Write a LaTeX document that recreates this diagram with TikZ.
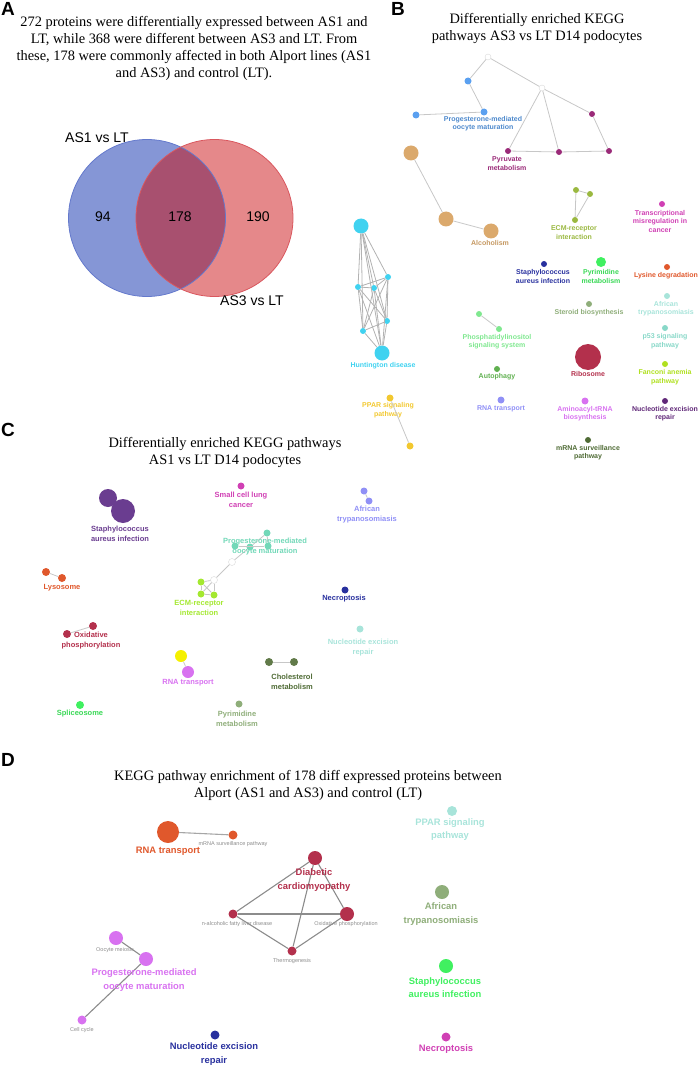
\documentclass[tikz,border=0pt]{standalone}
\usepackage{fontspec}
\setmainfont{Liberation Serif}
\setsansfont{Liberation Sans}
\usepackage{tikz}
\usetikzlibrary{shapes}
\definecolor{vennblue}{HTML}{8596D6}
\definecolor{vennblueline}{HTML}{6479CC}
\definecolor{vennred}{HTML}{E5888A}
\definecolor{vennredline}{HTML}{D9575E}
\definecolor{vennmix}{HTML}{A8506F}
\definecolor{skyblue}{HTML}{5AA0F0}
\definecolor{plum}{HTML}{9A2A78}
\definecolor{tan}{HTML}{DBA96C}
\definecolor{olive}{HTML}{9AB840}
\definecolor{magenta}{HTML}{D040B4}
\definecolor{navy}{HTML}{28309E}
\definecolor{lime}{HTML}{40F060}
\definecolor{rust}{HTML}{E0582C}
\definecolor{mint}{HTML}{A8E4DA}
\definecolor{sage}{HTML}{8FAE7A}
\definecolor{leaf}{HTML}{80E890}
\definecolor{aqua}{HTML}{88D8C8}
\definecolor{cyan}{HTML}{40D2F0}
\definecolor{crimson}{HTML}{B3304C}
\definecolor{grass}{HTML}{60B050}
\definecolor{chartreuse}{HTML}{B0E020}
\definecolor{gold}{HTML}{F2C830}
\definecolor{lavender}{HTML}{9090F6}
\definecolor{orchid}{HTML}{D872F0}
\definecolor{grape}{HTML}{602878}
\definecolor{moss}{HTML}{4F6B35}
\definecolor{purple}{HTML}{6A3D90}
\definecolor{teal}{HTML}{72D8B8}
\definecolor{yellow}{HTML}{F5F000}
\definecolor{springgreen}{HTML}{A4E830}
\tikzstyle{vertex}=[circle,minimum size=6pt,inner sep=0pt]
\tikzstyle{big vertex}=[vertex,minimum size=14pt]
\tikzstyle{white vertex}=[vertex,fill=white,draw=black!15]
\tikzstyle{edge} = [draw,line width=0.8pt,black!22,-]
\tikzstyle{dark edge} = [draw,line width=1.1pt,black!45,-]
\tikzstyle{heading}=[font=\fontsize{14.4}{17}\selectfont,align=center,inner sep=0pt]
\tikzstyle{panel}=[font=\fontsize{19}{19}\selectfont\sffamily\bfseries,inner sep=0pt]
\tikzstyle{venn text}=[font=\fontsize{14}{16}\selectfont\sffamily,inner sep=0pt]
\tikzstyle{b text}=[font=\fontsize{7}{8.5}\selectfont\sffamily\bfseries,align=center,inner sep=0pt]
\tikzstyle{c text}=[font=\fontsize{7.5}{10}\selectfont\sffamily\bfseries,align=center,inner sep=0pt]
\tikzstyle{d text}=[font=\fontsize{9.4}{13.5}\selectfont\sffamily\bfseries,align=center,inner sep=0pt]
\tikzstyle{d small}=[font=\fontsize{5.5}{6}\selectfont\sffamily,text=black!45,inner sep=0pt]
\begin{document}
\begin{tikzpicture}[x=1pt,y=-1pt]
        \useasboundingbox (0,0) rectangle (699,1067);
        % A: Venn diagram
        \node[panel] (pa) at (8,9) {A};
        \node[heading] (ta) at (194,48.5) {272 proteins were differentially expressed between AS1 and\\LT, while 368 were different between AS3 and LT. From\\these, 178 were commonly affected in both Alport lines (AS1\\and AS3) and control (LT).};
        \node[circle,minimum size=157pt,inner sep=0pt,fill=vennblue] (as1) at (147,218) {};
        \node[circle,minimum size=157pt,inner sep=0pt,fill=vennred] (as3) at (214.5,218) {};
        \begin{scope}
          \clip (147,218) circle (78.5);
          \fill[vennmix] (214.5,218) circle (78.5);
        \end{scope}
        \draw[vennblueline,line width=0.8pt] (147,218) circle (78.5);
        \draw[vennredline,line width=0.8pt] (214.5,218) circle (78.5);
        \node[venn text] (n1) at (103,217) {94};
        \node[venn text] (n2) at (180,217) {178};
        \node[venn text] (n3) at (258,217) {190};
        \node[venn text] (l1) at (97,138) {AS1 vs LT};
        \node[venn text] (l3) at (252,301) {AS3 vs LT};
        % B: AS3 vs LT
        \node[panel] (pb) at (398,9) {B};
        \node[heading] (tb) at (537,28.5) {Differentially enriched KEGG\\pathways AS3 vs LT D14 podocytes};
        \node[white vertex] (w1) at (488,57) {};
        \node[white vertex] (w2) at (542,88) {};
        \node[vertex,minimum size=7pt,fill=skyblue] (pg1) at (468,81) {};
        \node[vertex,minimum size=7pt,fill=skyblue] (pg2) at (484,112) {};
        \node[vertex,minimum size=7pt,fill=skyblue] (pg3) at (416,115) {};
        \node[b text,text=skyblue!85!black] (pgt) at (483,123.5) {Progesterone-mediated\\oocyte maturation};
        \node[vertex,fill=plum] (py1) at (592,114) {};
        \node[vertex,fill=plum] (py2) at (508,151) {};
        \node[vertex,fill=plum] (py3) at (559,152) {};
        \node[vertex,fill=plum] (py4) at (609,151) {};
        \node[b text,text=plum] (pyt) at (507,163.5) {Pyruvate\\metabolism};
        \draw[edge] (w1) to (pg1);
        \draw[edge] (pg1) to (pg2);
        \draw[edge] (pg2) to (pg3);
        \draw[edge] (w1) to (w2);
        \draw[edge] (w2) to (py1);
        \draw[edge] (w2) to (py2);
        \draw[edge] (w2) to (py3);
        \draw[edge] (py1) to (py4);
        \draw[edge] (py2) to (py3);
        \draw[edge] (py3) to (py4);
        \node[vertex,minimum size=15pt,fill=tan] (al1) at (411,153) {};
        \node[vertex,minimum size=15pt,fill=tan] (al2) at (446,219) {};
        \node[vertex,minimum size=15pt,fill=tan] (al3) at (491,231) {};
        \node[b text,text=tan!90!black] (alt) at (490,243) {Alcoholism};
        \draw[edge] (al1) to (al2);
        \draw[edge] (al2) to (al3);
        \node[vertex,fill=olive] (ecm1) at (576,190) {};
        \node[vertex,fill=olive] (ecm2) at (590,194) {};
        \node[vertex,fill=olive] (ecm3) at (575,220) {};
        \node[b text,text=olive] (ecmt) at (574,232.5) {ECM-receptor\\interaction};
        \draw[edge] (ecm1) to (ecm2);
        \draw[edge] (ecm1) to (ecm3);
        \draw[edge] (ecm2) to (ecm3);
        \node[vertex,fill=magenta] (tr) at (662,204) {};
        \node[b text,text=magenta] (trt) at (660,221) {Transcriptional\\misregulation in\\cancer};
        \node[vertex,fill=navy] (st) at (544,264) {};
        \node[b text,text=navy] (stt) at (543,276.5) {Staphylococcus\\aureus infection};
        \node[vertex,minimum size=10pt,fill=lime] (pm) at (601,262) {};
        \node[b text,text=lime!90!black] (pmt) at (601,276.5) {Pyrimidine\\metabolism};
        \node[vertex,fill=rust] (ly) at (667,267) {};
        \node[b text,text=rust] (lyt) at (666,276) {Lysine degradation};
        \node[vertex,fill=mint] (af) at (667,296) {};
        \node[b text,text=mint] (aft) at (666,308.5) {African\\trypanosomiasis};
        \node[vertex,fill=sage] (sb) at (589,304) {};
        \node[b text,text=sage] (sbt) at (589,313) {Steroid biosynthesis};
        \node[vertex,fill=leaf] (pi1) at (479,314) {};
        \node[vertex,fill=leaf] (pi2) at (499,329) {};
        \node[b text,text=leaf] (pit) at (497,341.5) {Phosphatidylinositol\\signaling system};
        \draw[edge] (pi1) to (pi2);
        \node[vertex,fill=aqua] (p53) at (665,328) {};
        \node[b text,text=aqua] (p53t) at (665,341) {p53 signaling\\pathway};
        \node[vertex,minimum size=15pt,fill=cyan] (hd1) at (361,226) {};
        \node[vertex,fill=cyan] (hd2) at (388,277) {};
        \node[vertex,fill=cyan] (hd3) at (358,287) {};
        \node[vertex,fill=cyan] (hd4) at (374,288) {};
        \node[vertex,fill=cyan] (hd5) at (387,321) {};
        \node[vertex,fill=cyan] (hd6) at (363,331) {};
        \node[vertex,minimum size=15pt,fill=cyan] (hd7) at (382,353) {};
        \node[b text,text=cyan] (hdt) at (383,366) {Huntington disease};
        \draw[edge,black!30] (hd1) to (hd2);
        \draw[edge,black!30] (hd1) to (hd3);
        \draw[edge,black!30] (hd1) to (hd4);
        \draw[edge,black!30] (hd1) to (hd5);
        \draw[edge,black!30] (hd1) to (hd6);
        \draw[edge,black!30] (hd1) to (hd7);
        \draw[edge,black!30] (hd2) to (hd3);
        \draw[edge,black!30] (hd2) to (hd4);
        \draw[edge,black!30] (hd2) to (hd5);
        \draw[edge,black!30] (hd2) to (hd6);
        \draw[edge,black!30] (hd2) to (hd7);
        \draw[edge,black!30] (hd3) to (hd4);
        \draw[edge,black!30] (hd3) to (hd5);
        \draw[edge,black!30] (hd3) to (hd6);
        \draw[edge,black!30] (hd3) to (hd7);
        \draw[edge,black!30] (hd4) to (hd5);
        \draw[edge,black!30] (hd4) to (hd6);
        \draw[edge,black!30] (hd4) to (hd7);
        \draw[edge,black!30] (hd5) to (hd6);
        \draw[edge,black!30] (hd5) to (hd7);
        \draw[edge,black!30] (hd6) to (hd7);
        \node[vertex,minimum size=26pt,fill=crimson] (ri) at (588,357) {};
        \node[b text,text=crimson] (rit) at (588,374) {Ribosome};
        \node[vertex,fill=grass] (au) at (497,369) {};
        \node[b text,text=grass] (aut) at (497,377) {Autophagy};
        \node[vertex,fill=chartreuse] (fa) at (665,364) {};
        \node[b text,text=chartreuse] (fat) at (665,377) {Fanconi anemia\\pathway};
        \node[vertex,minimum size=7pt,fill=gold] (pp1) at (390,398) {};
        \node[vertex,minimum size=7pt,fill=gold] (pp2) at (410,446) {};
        \node[b text,text=gold] (ppt) at (388,410) {PPAR signaling\\pathway};
        \draw[edge] (pp1) to (pp2);
        \node[vertex,minimum size=7pt,fill=lavender] (rn) at (501,400) {};
        \node[b text,text=lavender] (rnt) at (501,409) {RNA transport};
        \node[vertex,minimum size=7pt,fill=orchid] (aa) at (585,401) {};
        \node[b text,text=orchid] (aat) at (585,413.5) {Aminoacyl-tRNA\\biosynthesis};
        \node[vertex,fill=grape] (ne) at (665,401) {};
        \node[b text,text=grape] (net) at (665,413.5) {Nucleotide excision\\repair};
        \node[vertex,fill=moss] (mr) at (588,440) {};
        \node[b text,text=moss] (mrt) at (588,452.5) {mRNA surveillance\\pathway};
        % C: AS1 vs LT
        \node[panel] (pc) at (8,430) {C};
        \node[heading] (tc) at (225,452) {Differentially enriched KEGG pathways\\AS1 vs LT D14 podocytes};
        \node[vertex,minimum size=18pt,fill=purple] (sa1) at (108,498) {};
        \node[vertex,minimum size=24pt,fill=purple] (sa2) at (123,511) {};
        \node[c text,text=purple] (sat) at (120,533.5) {Staphylococcus\\aureus infection};
        \node[vertex,minimum size=7pt,fill=magenta] (sc) at (241,486) {};
        \node[c text,text=magenta] (sct) at (241,500) {Small cell lung\\cancer};
        \node[vertex,minimum size=7pt,fill=lavender] (at1) at (364,491) {};
        \node[vertex,minimum size=7pt,fill=lavender] (at2) at (369,501) {};
        \node[c text,text=lavender] (att) at (367,514.5) {African\\trypanosomiasis};
        \draw[edge] (at1) to (at2);
        \node[vertex,minimum size=7pt,fill=teal] (po1) at (267,533) {};
        \node[vertex,minimum size=7pt,fill=teal] (po2) at (235,546) {};
        \node[vertex,minimum size=7pt,fill=teal] (po3) at (250,547) {};
        \node[vertex,minimum size=7pt,fill=teal] (po4) at (268,546) {};
        \node[white vertex,minimum size=7pt] (wc1) at (232,562) {};
        \node[white vertex,minimum size=7pt] (wc2) at (214,580) {};
        \node[vertex,minimum size=7pt,fill=springgreen] (ec1) at (201,582) {};
        \node[vertex,minimum size=7pt,fill=springgreen] (ec2) at (201,594) {};
        \node[vertex,minimum size=7pt,fill=springgreen] (ec3) at (214,595) {};
        \draw[edge] (po1) to (po3);
        \draw[edge] (po1) to (po4);
        \draw[edge] (po2) to (po4);
        \draw[edge] (po3) to (wc1);
        \draw[edge] (wc1) to (wc2);
        \draw[edge] (wc2) to (ec1);
        \draw[edge] (wc2) to (ec2);
        \draw[edge] (wc2) to (ec3);
        \draw[edge] (ec1) to (ec2);
        \draw[edge] (ec1) to (ec3);
        \draw[edge] (ec2) to (ec3);
        \node[c text,text=teal] (pot) at (265,547) {Progesterone-mediated\\oocyte maturation};
        \node[c text,text=springgreen] (ect) at (199,608) {ECM-receptor\\interaction};
        \node[vertex,minimum size=8pt,fill=rust] (lc1) at (46,572) {};
        \node[vertex,minimum size=8pt,fill=rust] (lc2) at (62,578) {};
        \node[c text,text=rust] (lct) at (62,588) {Lysosome};
        \draw[edge] (lc1) to (lc2);
        \node[vertex,minimum size=8pt,fill=crimson] (ox1) at (67,634) {};
        \node[vertex,minimum size=8pt,fill=crimson] (ox2) at (93,626) {};
        \node[c text,text=crimson] (oxt) at (91,641) {Oxidative\\phosphorylation};
        \draw[edge] (ox1) to (ox2);
        \node[vertex,minimum size=7pt,fill=navy] (nc) at (345,590) {};
        \node[c text,text=navy] (nct) at (344,599) {Necroptosis};
        \node[vertex,minimum size=7pt,fill=mint] (nr) at (360,629) {};
        \node[c text,text=mint] (nrt) at (363,648) {Nucleotide excision\\repair};
        \node[vertex,minimum size=8pt,fill=moss!90] (ch1) at (269,662) {};
        \node[vertex,minimum size=8pt,fill=moss!90] (ch2) at (294,662) {};
        \node[c text,text=moss] (cht) at (292,681.5) {Cholesterol\\metabolism};
        \draw[edge] (ch1) to (ch2);
        \node[vertex,minimum size=12pt,fill=yellow] (rt1) at (181,656) {};
        \node[vertex,minimum size=12pt,fill=orchid] (rt2) at (188,672) {};
        \node[c text,text=orchid] (rtt) at (188,683) {RNA transport};
        \draw[edge] (rt1) to (rt2);
        \node[vertex,minimum size=7pt,fill=sage] (pyc) at (239,704) {};
        \node[c text,text=sage] (pyct) at (237,718.5) {Pyrimidine\\metabolism};
        \node[vertex,minimum size=8pt,fill=lime] (sp) at (80,705) {};
        \node[c text,text=lime!90!black] (spt) at (80,714) {Spliceosome};
        % D: 178 common proteins
        \node[panel] (pd) at (8,760) {D};
        \node[heading] (td) at (308,785.5) {KEGG pathway enrichment of 178 diff expressed proteins between\\Alport (AS1 and AS3) and control (LT)};
        \node[vertex,minimum size=22pt,fill=rust] (rt) at (168,832) {};
        \node[vertex,minimum size=9pt,fill=rust] (ms) at (233,835) {};
        \node[d text,text=rust] (rtt2) at (168,851) {RNA transport};
        \node[d small] (mst) at (233,844) {mRNA surveillance pathway};
        \draw[dark edge,black!35] (rt) to (ms);
        \node[vertex,minimum size=14pt,fill=crimson] (dc1) at (315,858) {};
        \node[vertex,minimum size=9pt,fill=crimson] (dc2) at (233,914) {};
        \node[vertex,minimum size=14pt,fill=crimson] (dc3) at (347,914) {};
        \node[vertex,minimum size=9pt,fill=crimson] (dc4) at (292,951) {};
        \draw[dark edge] (dc1) to (dc2);
        \draw[dark edge] (dc1) to (dc3);
        \draw[dark edge] (dc1) to (dc4);
        \draw[dark edge] (dc2) to (dc3);
        \draw[dark edge] (dc2) to (dc4);
        \draw[dark edge] (dc3) to (dc4);
        \node[d text,text=crimson] (dct) at (314,880) {Diabetic\\cardiomyopathy};
        \node[d small] (dc2t) at (237,924) {n-alcoholic fatty liver disease};
        \node[d small] (dc3t) at (346,924) {Oxidative phosphorylation};
        \node[d small] (dc4t) at (292,961) {Thermogenesis};
        \node[vertex,minimum size=14pt,fill=orchid] (oo1) at (116,938) {};
        \node[vertex,minimum size=14pt,fill=orchid] (oo2) at (146,959) {};
        \node[vertex,minimum size=9pt,fill=orchid] (oo3) at (82,1020) {};
        \draw[dark edge] (oo1) to (oo2);
        \draw[dark edge] (oo2) to (oo3);
        \node[d small] (oo1t) at (115,950) {Oocyte meiosis};
        \node[d text,text=orchid] (oot) at (144,980) {Progesterone-mediated\\oocyte maturation};
        \node[d small] (oo3t) at (82,1030) {Cell cycle};
        \node[vertex,minimum size=9pt,fill=navy] (nx) at (215,1035) {};
        \node[d text,text=navy] (nxt) at (214,1054) {Nucleotide excision\\repair};
        \node[vertex,minimum size=10pt,fill=mint] (pr) at (452,811) {};
        \node[d text,text=mint] (prt) at (450,829.5) {PPAR signaling\\pathway};
        \node[vertex,minimum size=14pt,fill=sage] (ta2) at (442,892) {};
        \node[d text,text=sage] (ta2t) at (441,914) {African\\trypanosomiasis};
        \node[vertex,minimum size=14pt,fill=lime] (sd) at (446,966) {};
        \node[d text,text=lime] (sdt) at (445,987.5) {Staphylococcus\\aureus infection};
        \node[vertex,minimum size=9pt,fill=magenta] (nd) at (446,1037) {};
        \node[d text,text=magenta] (ndt) at (446,1049) {Necroptosis};
      \end{tikzpicture}
\end{document}
